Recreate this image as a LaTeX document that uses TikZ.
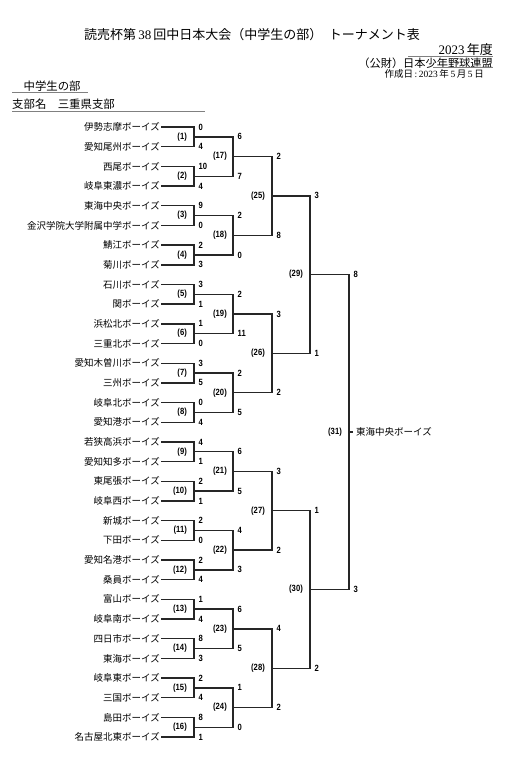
\documentclass[tikz,border=0pt]{standalone}
\usepackage{fontspec}
\setmainfont{Liberation Serif}
\newfontfamily\jpfont{Noto Sans CJK JP}
\newfontfamily\numfont[FakeStretch=0.85]{Liberation Sans}
\usetikzlibrary{calc,positioning}
\tikzset{
  team/.style={
    anchor=east, inner sep=1pt, font=\jpfont\fontsize{9.5}{10}\selectfont
  },
  bk/.style={line width=1.4pt, draw=black!85},
  mno/.style={inner sep=0pt, font=\numfont\bfseries\fontsize{9}{10}\selectfont},
  score/.style={
    anchor=west, inner sep=0pt, xshift=4pt,
    font=\numfont\bfseries\fontsize{9}{10}\selectfont
  },
  rule/.style={draw=black!50, line width=0.9pt},
}

\begin{document}
\begin{tikzpicture}[x=1pt,y=-1pt]
  \useasboundingbox (0,0) rectangle (519,768);

  % header
  \node[font=\fontsize{13}{15}\selectfont] (title) at (252,35)
    {{\jpfont 読売杯第}\,38\,{\jpfont 回中日本大会（中学生の部）\enspace トーナメント表}};
  \node[anchor=east, inner sep=0pt, font=\fontsize{13}{15}\selectfont] (year) at (493,50)
    {2023\,{\jpfont 年度}};
  \node[anchor=east, inner sep=0pt, font=\jpfont\fontsize{11.2}{13}\selectfont] (org) at (493,63)
    {（公財）日本少年野球連盟};
  \node[anchor=east, inner sep=0pt, font=\fontsize{9.5}{11}\selectfont] (made) at (484,74)
    {{\jpfont 作成日}\,:\,2023\,{\jpfont 年}\,5\,{\jpfont 月}\,5\,{\jpfont 日}};
  \draw[rule] (408,56) -- (493,56);
  \draw[rule] (433,67) -- (493,67);
  \node[anchor=west, inner sep=0pt, font=\jpfont\fontsize{11.4}{13}\selectfont] (dept) at (12,86.5)
    {　中学生の部};
  \node[anchor=west, inner sep=0pt, font=\jpfont\fontsize{11.4}{13}\selectfont] (branch) at (12,104.5)
    {支部名　三重県支部};
  \draw[rule] (12,92) -- (88,92);
  \draw[rule] (12,111.5) -- (205,111.5);

  % teams
  \node[team] (t1) at (161,127.0) {伊勢志摩ボーイズ};
  \node[team] (t2) at (161,146.7) {愛知尾州ボーイズ};
  \node[team] (t3) at (161,166.4) {西尾ボーイズ};
  \node[team] (t4) at (161,186.0) {岐阜東濃ボーイズ};
  \node[team] (t5) at (161,205.7) {東海中央ボーイズ};
  \node[team] (t6) at (161,225.4) {金沢学院大学附属中学ボーイズ};
  \node[team] (t7) at (161,245.1) {鯖江ボーイズ};
  \node[team] (t8) at (161,264.8) {菊川ボーイズ};
  \node[team] (t9) at (161,284.4) {石川ボーイズ};
  \node[team] (t10) at (161,304.1) {関ボーイズ};
  \node[team] (t11) at (161,323.8) {浜松北ボーイズ};
  \node[team] (t12) at (161,343.5) {三重北ボーイズ};
  \node[team] (t13) at (161,363.2) {愛知木曽川ボーイズ};
  \node[team] (t14) at (161,382.8) {三州ボーイズ};
  \node[team] (t15) at (161,402.5) {岐阜北ボーイズ};
  \node[team] (t16) at (161,422.2) {愛知港ボーイズ};
  \node[team] (t17) at (161,441.9) {若狭高浜ボーイズ};
  \node[team] (t18) at (161,461.6) {愛知知多ボーイズ};
  \node[team] (t19) at (161,481.2) {東尾張ボーイズ};
  \node[team] (t20) at (161,500.9) {岐阜西ボーイズ};
  \node[team] (t21) at (161,520.6) {新城ボーイズ};
  \node[team] (t22) at (161,540.3) {下田ボーイズ};
  \node[team] (t23) at (161,560.0) {愛知名港ボーイズ};
  \node[team] (t24) at (161,579.6) {桑員ボーイズ};
  \node[team] (t25) at (161,599.3) {富山ボーイズ};
  \node[team] (t26) at (161,619.0) {岐阜南ボーイズ};
  \node[team] (t27) at (161,638.7) {四日市ボーイズ};
  \node[team] (t28) at (161,658.4) {東海ボーイズ};
  \node[team] (t29) at (161,678.0) {岐阜東ボーイズ};
  \node[team] (t30) at (161,697.7) {三国ボーイズ};
  \node[team] (t31) at (161,717.4) {島田ボーイズ};
  \node[team] (t32) at (161,737.1) {名古屋北東ボーイズ};

  % first round
  \coordinate (m1) at ($(t1.east)!.5!(t2.east)+(33,0)$);
  \draw[bk] (t1.east) -- (t1.east -| m1) node[score] (s1a) {0} -- (t2.east -| m1) node[score] (s1b) {4} -- (t2.east);
  \node[mno, left=7pt of m1] (n1) {(1)};
  \coordinate (m2) at ($(t3.east)!.5!(t4.east)+(33,0)$);
  \draw[bk] (t3.east) -- (t3.east -| m2) node[score] (s2a) {10} -- (t4.east -| m2) node[score] (s2b) {4} -- (t4.east);
  \node[mno, left=7pt of m2] (n2) {(2)};
  \coordinate (m3) at ($(t5.east)!.5!(t6.east)+(33,0)$);
  \draw[bk] (t5.east) -- (t5.east -| m3) node[score] (s3a) {9} -- (t6.east -| m3) node[score] (s3b) {0} -- (t6.east);
  \node[mno, left=7pt of m3] (n3) {(3)};
  \coordinate (m4) at ($(t7.east)!.5!(t8.east)+(33,0)$);
  \draw[bk] (t7.east) -- (t7.east -| m4) node[score] (s4a) {2} -- (t8.east -| m4) node[score] (s4b) {3} -- (t8.east);
  \node[mno, left=7pt of m4] (n4) {(4)};
  \coordinate (m5) at ($(t9.east)!.5!(t10.east)+(33,0)$);
  \draw[bk] (t9.east) -- (t9.east -| m5) node[score] (s5a) {3} -- (t10.east -| m5) node[score] (s5b) {1} -- (t10.east);
  \node[mno, left=7pt of m5] (n5) {(5)};
  \coordinate (m6) at ($(t11.east)!.5!(t12.east)+(33,0)$);
  \draw[bk] (t11.east) -- (t11.east -| m6) node[score] (s6a) {1} -- (t12.east -| m6) node[score] (s6b) {0} -- (t12.east);
  \node[mno, left=7pt of m6] (n6) {(6)};
  \coordinate (m7) at ($(t13.east)!.5!(t14.east)+(33,0)$);
  \draw[bk] (t13.east) -- (t13.east -| m7) node[score] (s7a) {3} -- (t14.east -| m7) node[score] (s7b) {5} -- (t14.east);
  \node[mno, left=7pt of m7] (n7) {(7)};
  \coordinate (m8) at ($(t15.east)!.5!(t16.east)+(33,0)$);
  \draw[bk] (t15.east) -- (t15.east -| m8) node[score] (s8a) {0} -- (t16.east -| m8) node[score] (s8b) {4} -- (t16.east);
  \node[mno, left=7pt of m8] (n8) {(8)};
  \coordinate (m9) at ($(t17.east)!.5!(t18.east)+(33,0)$);
  \draw[bk] (t17.east) -- (t17.east -| m9) node[score] (s9a) {4} -- (t18.east -| m9) node[score] (s9b) {1} -- (t18.east);
  \node[mno, left=7pt of m9] (n9) {(9)};
  \coordinate (m10) at ($(t19.east)!.5!(t20.east)+(33,0)$);
  \draw[bk] (t19.east) -- (t19.east -| m10) node[score] (s10a) {2} -- (t20.east -| m10) node[score] (s10b) {1} -- (t20.east);
  \node[mno, left=7pt of m10] (n10) {(10)};
  \coordinate (m11) at ($(t21.east)!.5!(t22.east)+(33,0)$);
  \draw[bk] (t21.east) -- (t21.east -| m11) node[score] (s11a) {2} -- (t22.east -| m11) node[score] (s11b) {0} -- (t22.east);
  \node[mno, left=7pt of m11] (n11) {(11)};
  \coordinate (m12) at ($(t23.east)!.5!(t24.east)+(33,0)$);
  \draw[bk] (t23.east) -- (t23.east -| m12) node[score] (s12a) {2} -- (t24.east -| m12) node[score] (s12b) {4} -- (t24.east);
  \node[mno, left=7pt of m12] (n12) {(12)};
  \coordinate (m13) at ($(t25.east)!.5!(t26.east)+(33,0)$);
  \draw[bk] (t25.east) -- (t25.east -| m13) node[score] (s13a) {1} -- (t26.east -| m13) node[score] (s13b) {4} -- (t26.east);
  \node[mno, left=7pt of m13] (n13) {(13)};
  \coordinate (m14) at ($(t27.east)!.5!(t28.east)+(33,0)$);
  \draw[bk] (t27.east) -- (t27.east -| m14) node[score] (s14a) {8} -- (t28.east -| m14) node[score] (s14b) {3} -- (t28.east);
  \node[mno, left=7pt of m14] (n14) {(14)};
  \coordinate (m15) at ($(t29.east)!.5!(t30.east)+(33,0)$);
  \draw[bk] (t29.east) -- (t29.east -| m15) node[score] (s15a) {2} -- (t30.east -| m15) node[score] (s15b) {4} -- (t30.east);
  \node[mno, left=7pt of m15] (n15) {(15)};
  \coordinate (m16) at ($(t31.east)!.5!(t32.east)+(33,0)$);
  \draw[bk] (t31.east) -- (t31.east -| m16) node[score] (s16a) {8} -- (t32.east -| m16) node[score] (s16b) {1} -- (t32.east);
  \node[mno, left=7pt of m16] (n16) {(16)};

  % second round
  \coordinate (m17) at ($(m1)!.5!(m2)+(39,0)$);
  \draw[bk] (m1) -- (m1 -| m17) node[score] (s17a) {6} -- (m2 -| m17) node[score] (s17b) {7} -- (m2);
  \node[mno, left=6pt of m17] (n17) {(17)};
  \coordinate (m18) at ($(m3)!.5!(m4)+(39,0)$);
  \draw[bk] (m3) -- (m3 -| m18) node[score] (s18a) {2} -- (m4 -| m18) node[score] (s18b) {0} -- (m4);
  \node[mno, left=6pt of m18] (n18) {(18)};
  \coordinate (m19) at ($(m5)!.5!(m6)+(39,0)$);
  \draw[bk] (m5) -- (m5 -| m19) node[score] (s19a) {2} -- (m6 -| m19) node[score] (s19b) {11} -- (m6);
  \node[mno, left=6pt of m19] (n19) {(19)};
  \coordinate (m20) at ($(m7)!.5!(m8)+(39,0)$);
  \draw[bk] (m7) -- (m7 -| m20) node[score] (s20a) {2} -- (m8 -| m20) node[score] (s20b) {5} -- (m8);
  \node[mno, left=6pt of m20] (n20) {(20)};
  \coordinate (m21) at ($(m9)!.5!(m10)+(39,0)$);
  \draw[bk] (m9) -- (m9 -| m21) node[score] (s21a) {6} -- (m10 -| m21) node[score] (s21b) {5} -- (m10);
  \node[mno, left=6pt of m21] (n21) {(21)};
  \coordinate (m22) at ($(m11)!.5!(m12)+(39,0)$);
  \draw[bk] (m11) -- (m11 -| m22) node[score] (s22a) {4} -- (m12 -| m22) node[score] (s22b) {3} -- (m12);
  \node[mno, left=6pt of m22] (n22) {(22)};
  \coordinate (m23) at ($(m13)!.5!(m14)+(39,0)$);
  \draw[bk] (m13) -- (m13 -| m23) node[score] (s23a) {6} -- (m14 -| m23) node[score] (s23b) {5} -- (m14);
  \node[mno, left=6pt of m23] (n23) {(23)};
  \coordinate (m24) at ($(m15)!.5!(m16)+(39,0)$);
  \draw[bk] (m15) -- (m15 -| m24) node[score] (s24a) {1} -- (m16 -| m24) node[score] (s24b) {0} -- (m16);
  \node[mno, left=6pt of m24] (n24) {(24)};

  % third round
  \coordinate (m25) at ($(m17)!.5!(m18)+(39,0)$);
  \draw[bk] (m17) -- (m17 -| m25) node[score] (s25a) {2} -- (m18 -| m25) node[score] (s25b) {8} -- (m18);
  \node[mno, left=7pt of m25] (n25) {(25)};
  \coordinate (m26) at ($(m19)!.5!(m20)+(39,0)$);
  \draw[bk] (m19) -- (m19 -| m26) node[score] (s26a) {3} -- (m20 -| m26) node[score] (s26b) {2} -- (m20);
  \node[mno, left=7pt of m26] (n26) {(26)};
  \coordinate (m27) at ($(m21)!.5!(m22)+(39,0)$);
  \draw[bk] (m21) -- (m21 -| m27) node[score] (s27a) {3} -- (m22 -| m27) node[score] (s27b) {2} -- (m22);
  \node[mno, left=7pt of m27] (n27) {(27)};
  \coordinate (m28) at ($(m23)!.5!(m24)+(39,0)$);
  \draw[bk] (m23) -- (m23 -| m28) node[score] (s28a) {4} -- (m24 -| m28) node[score] (s28b) {2} -- (m24);
  \node[mno, left=7pt of m28] (n28) {(28)};

  % semi-finals and final
  \coordinate (m29) at ($(m25)!.5!(m26)+(38,0)$);
  \draw[bk] (m25) -- (m25 -| m29) node[score] (s29a) {3} -- (m26 -| m29) node[score] (s29b) {1} -- (m26);
  \node[mno, left=7pt of m29] (n29) {(29)};
  \coordinate (m30) at ($(m27)!.5!(m28)+(38,0)$);
  \draw[bk] (m27) -- (m27 -| m30) node[score] (s30a) {1} -- (m28 -| m30) node[score] (s30b) {2} -- (m28);
  \node[mno, left=7pt of m30] (n30) {(30)};
  \coordinate (m31) at ($(m29)!.5!(m30)+(39,0)$);
  \draw[bk] (m29) -- (m29 -| m31) node[score] (s31a) {8} -- (m30 -| m31) node[score] (s31b) {3} -- (m30);
  \node[mno, left=7pt of m31] (n31) {(31)};
  \node[anchor=west, inner xsep=3pt, inner ysep=0pt, font=\jpfont\fontsize{9.5}{10}\selectfont]
    (champ) at ($(m31)+(4,0)$) {東海中央ボーイズ};
  \draw[bk] (m31) -- (champ.west);
\end{tikzpicture}
\end{document}
